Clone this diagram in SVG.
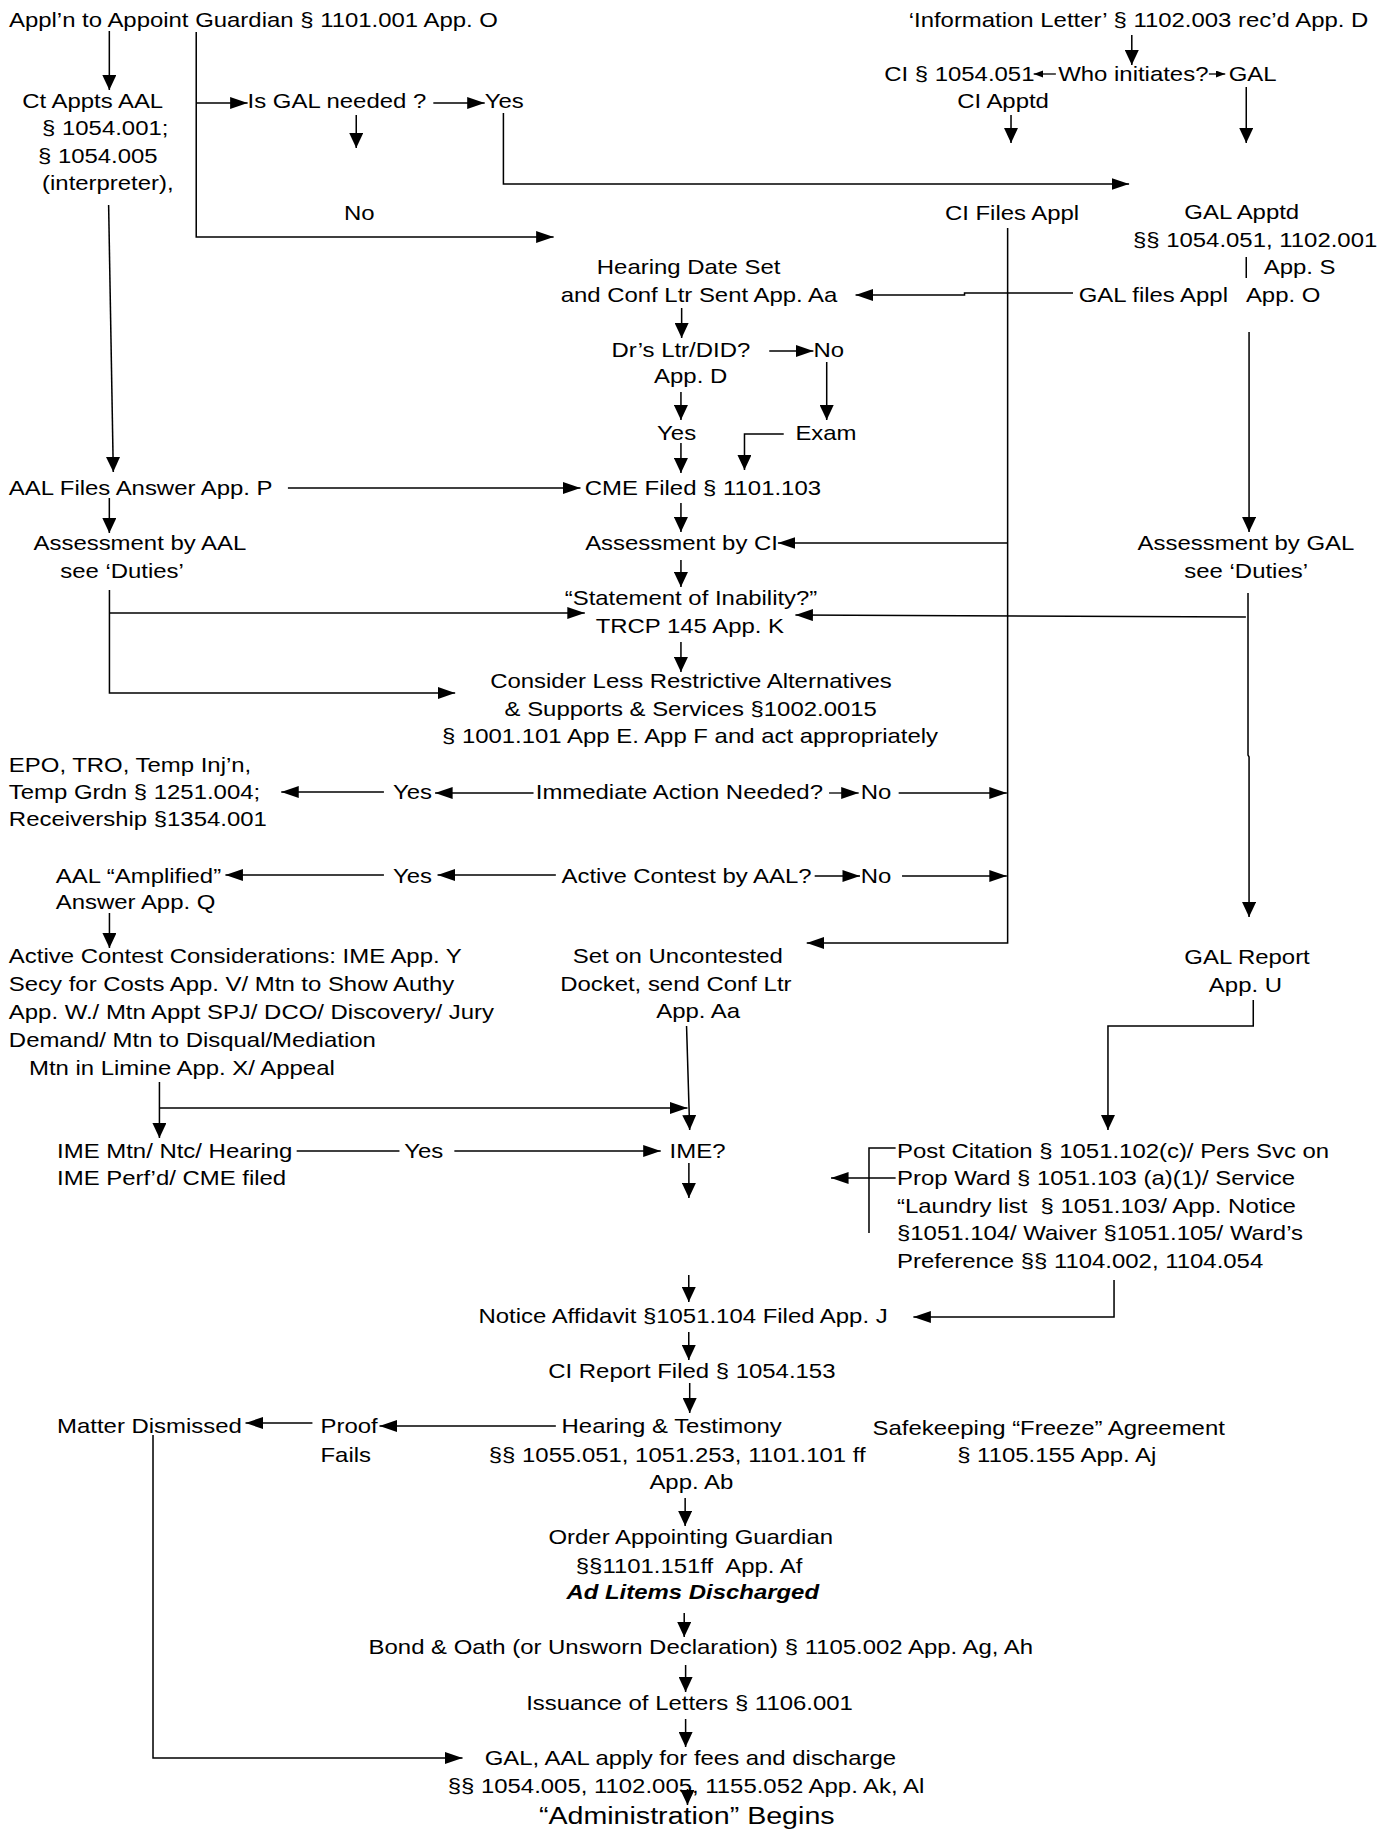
<svg xmlns="http://www.w3.org/2000/svg" width="1397" height="1831" viewBox="0 0 1397 1831">
<style>
text { font-family: "Liberation Sans", Arial, sans-serif; font-size: 20.5px; fill: #000; }
.big { font-size: 24.5px; }
.bi { font-weight: bold; font-style: italic; }
#connectors line, #connectors polyline { fill: none; stroke: #000; stroke-width: 1.3; }
</style>
<defs>
<marker id="a" markerWidth="16" markerHeight="12" refX="15" refY="6" orient="auto" markerUnits="userSpaceOnUse"><path d="M0,0 L15,6 L0,12 z" fill="#000" stroke="none"/></marker>
<marker id="s" markerWidth="9" markerHeight="8" refX="8" refY="3.5" orient="auto" markerUnits="userSpaceOnUse"><path d="M0,0 L8,3.5 L0,7 z" fill="#000" stroke="none"/></marker>
</defs>
<rect width="1397" height="1831" fill="#fff"/>
<g transform="scale(1.168,1)">
<g id="connectors">
<line x1="93.6" y1="31" x2="93.6" y2="90" marker-end="url(#a)"/>
<polyline points="168,32 168,237 474,237" marker-end="url(#a)"/>
<line x1="168" y1="103" x2="212" y2="103" marker-end="url(#a)"/>
<line x1="371" y1="103" x2="415" y2="103" marker-end="url(#a)"/>
<line x1="305" y1="115" x2="305" y2="148" marker-end="url(#a)"/>
<polyline points="431,113 431,184 966.7,184" marker-end="url(#a)"/>
<line x1="969" y1="35" x2="969" y2="65" marker-end="url(#a)"/>
<line x1="904" y1="74" x2="885" y2="74" marker-end="url(#s)"/>
<line x1="1035" y1="74" x2="1049" y2="74" marker-end="url(#s)"/>
<line x1="865.6" y1="115" x2="865.6" y2="143" marker-end="url(#a)"/>
<line x1="1067" y1="87" x2="1067" y2="143" marker-end="url(#a)"/>
<line x1="1067" y1="257" x2="1067" y2="278"/>
<polyline points="918.7,293 825.8,293 825.8,295 732.5,295" marker-end="url(#a)"/>
<polyline points="862.7,228 862.7,943 690.7,943" marker-end="url(#a)"/>
<line x1="583.6" y1="308" x2="583.6" y2="338" marker-end="url(#a)"/>
<line x1="658.6" y1="351" x2="696.4" y2="351" marker-end="url(#a)"/>
<line x1="707.8" y1="362" x2="707.8" y2="420" marker-end="url(#a)"/>
<polyline points="671,434 637.4,434 637.4,470" marker-end="url(#a)"/>
<line x1="583" y1="392" x2="583" y2="420" marker-end="url(#a)"/>
<line x1="583" y1="443" x2="583" y2="473" marker-end="url(#a)"/>
<line x1="246.5" y1="488" x2="497" y2="488" marker-end="url(#a)"/>
<line x1="93" y1="205" x2="97" y2="472" marker-end="url(#a)"/>
<line x1="93.6" y1="498" x2="93.6" y2="533" marker-end="url(#a)"/>
<line x1="583" y1="503" x2="583" y2="532" marker-end="url(#a)"/>
<line x1="862.7" y1="543" x2="666" y2="543" marker-end="url(#a)"/>
<line x1="1069.4" y1="332" x2="1069.4" y2="532" marker-end="url(#a)"/>
<line x1="583" y1="560" x2="583" y2="587" marker-end="url(#a)"/>
<polyline points="1068.5,593 1068.5,755 1069.4,757 1069.4,917" marker-end="url(#a)"/>
<line x1="1066.7" y1="617" x2="681" y2="615" marker-end="url(#a)"/>
<polyline points="93.7,590 93.7,693 389.7,693" marker-end="url(#a)"/>
<line x1="93.7" y1="613" x2="500.7" y2="613" marker-end="url(#a)"/>
<line x1="583" y1="642" x2="583" y2="672" marker-end="url(#a)"/>
<line x1="328.7" y1="792" x2="240.8" y2="792" marker-end="url(#a)"/>
<line x1="456.8" y1="793" x2="372.5" y2="793" marker-end="url(#a)"/>
<line x1="709.8" y1="793" x2="735.2" y2="793" marker-end="url(#a)"/>
<line x1="769.4" y1="793" x2="862" y2="793" marker-end="url(#a)"/>
<line x1="328.7" y1="875" x2="193" y2="875" marker-end="url(#a)"/>
<line x1="475.9" y1="875" x2="374.6" y2="875" marker-end="url(#a)"/>
<line x1="697.5" y1="876" x2="736.3" y2="876" marker-end="url(#a)"/>
<line x1="772.3" y1="876" x2="862" y2="876" marker-end="url(#a)"/>
<line x1="93.7" y1="913" x2="93.7" y2="948" marker-end="url(#a)"/>
<line x1="136.5" y1="1082" x2="136.5" y2="1138" marker-end="url(#a)"/>
<line x1="136.5" y1="1108" x2="588.6" y2="1108" marker-end="url(#a)"/>
<line x1="587.8" y1="1026" x2="590.5" y2="1130" marker-end="url(#a)"/>
<line x1="254" y1="1151" x2="342" y2="1151"/>
<line x1="389" y1="1151" x2="565.7" y2="1151" marker-end="url(#a)"/>
<line x1="589.8" y1="1163" x2="589.8" y2="1198" marker-end="url(#a)"/>
<polyline points="1073,1000 1073,1026 948.6,1026 948.6,1130" marker-end="url(#a)"/>
<polyline points="766.8,1148 744,1148 744,1233"/>
<line x1="766.8" y1="1178" x2="711.5" y2="1178" marker-end="url(#a)"/>
<polyline points="953.8,1280 953.8,1317 782,1317" marker-end="url(#a)"/>
<line x1="589.7" y1="1275" x2="589.7" y2="1302" marker-end="url(#a)"/>
<line x1="589.7" y1="1332" x2="589.7" y2="1360" marker-end="url(#a)"/>
<line x1="590.5" y1="1383" x2="590.5" y2="1413" marker-end="url(#a)"/>
<line x1="267.5" y1="1423" x2="210.2" y2="1423" marker-end="url(#a)"/>
<line x1="475.9" y1="1426" x2="324.9" y2="1426" marker-end="url(#a)"/>
<polyline points="131,1435 131,1758 396,1758" marker-end="url(#a)"/>
<line x1="586.6" y1="1498" x2="586.6" y2="1526" marker-end="url(#a)"/>
<line x1="585.8" y1="1613" x2="585.8" y2="1637" marker-end="url(#a)"/>
<line x1="587" y1="1665" x2="587" y2="1692" marker-end="url(#a)"/>
<line x1="587" y1="1719" x2="587" y2="1747" marker-end="url(#a)"/>
<line x1="588.6" y1="1789" x2="588.6" y2="1805" marker-end="url(#a)"/>
</g>
<g id="n-appl"><text x="7.7" y="27">Appl’n to Appoint Guardian § 1101.001 App. O</text></g>
<g id="n-ctappts"><text x="19" y="108">Ct Appts AAL</text><text x="36" y="135.5">§ 1054.001;</text><text x="32.5" y="163">§ 1054.005</text><text x="36" y="190">(interpreter),</text></g>
<g id="n-isgal"><text x="212" y="108">Is GAL needed ?</text></g>
<g id="n-isgal-yes"><text x="415" y="108">Yes</text></g>
<g id="n-isgal-no"><text x="294.5" y="220">No</text></g>
<g id="n-infoletter"><text x="778" y="27">‘Information Letter’ § 1102.003 rec’d App. D</text></g>
<g id="n-ci"><text x="757" y="81">CI § 1054.051</text><text x="819.5" y="108">CI Apptd</text></g>
<g id="n-who"><text x="906" y="81">Who initiates?</text></g>
<g id="n-gal"><text x="1052" y="81">GAL</text></g>
<g id="n-cifiles"><text x="809" y="220">CI Files Appl</text></g>
<g id="n-galapptd"><text x="1014" y="219">GAL Apptd</text><text x="970" y="247">§§ 1054.051, 1102.001</text><text x="1082" y="274">App. S</text></g>
<g id="n-galfiles"><text x="923.5" y="302">GAL files Appl</text><text x="1066.7" y="302">App. O</text></g>
<g id="n-hearingdate"><text x="511" y="274">Hearing Date Set</text><text x="480" y="302">and Conf Ltr Sent App. Aa</text></g>
<g id="n-drs"><text x="523.6" y="357">Dr’s Ltr/DID?</text><text x="560" y="383">App. D</text></g>
<g id="n-drs-no"><text x="696.4" y="357">No</text></g>
<g id="n-drs-yes"><text x="562.6" y="440">Yes</text></g>
<g id="n-exam"><text x="681" y="440">Exam</text></g>
<g id="n-aalfiles"><text x="7.6" y="495">AAL Files Answer App. P</text></g>
<g id="n-cme"><text x="500.7" y="495">CME Filed § 1101.103</text></g>
<g id="n-assess-aal"><text x="28.7" y="550">Assessment by AAL</text><text x="51.6" y="578">see ‘Duties’</text></g>
<g id="n-assess-ci"><text x="501" y="550">Assessment by CI</text></g>
<g id="n-assess-gal"><text x="974" y="550">Assessment by GAL</text><text x="1014" y="578">see ‘Duties’</text></g>
<g id="n-statement"><text x="483.5" y="605">“Statement of Inability?”</text><text x="510" y="633">TRCP 145 App. K</text></g>
<g id="n-consider"><text x="419.7" y="688">Consider Less Restrictive Alternatives</text><text x="432" y="716">&amp; Supports &amp; Services §1002.0015</text><text x="378.4" y="743">§ 1001.101 App E. App F and act appropriately</text></g>
<g id="n-epo"><text x="7.6" y="772">EPO, TRO, Temp Inj’n,</text><text x="7.6" y="799">Temp Grdn § 1251.004;</text><text x="7.6" y="826">Receivership §1354.001</text></g>
<g id="n-imm-yes"><text x="336.4" y="799">Yes</text></g>
<g id="n-immediate"><text x="458.7" y="799">Immediate Action Needed?</text></g>
<g id="n-imm-no"><text x="737" y="799">No</text></g>
<g id="n-amplified"><text x="47.8" y="883">AAL “Amplified”</text><text x="47.8" y="909">Answer App. Q</text></g>
<g id="n-act-yes"><text x="336.4" y="883">Yes</text></g>
<g id="n-active"><text x="480.8" y="883">Active Contest by AAL?</text></g>
<g id="n-act-no"><text x="737" y="883">No</text></g>
<g id="n-considerations"><text x="7.6" y="963">Active Contest Considerations: IME App. Y</text><text x="7.6" y="991">Secy for Costs App. V/ Mtn to Show Authy</text><text x="7.6" y="1019">App. W./ Mtn Appt SPJ/ DCO/ Discovery/ Jury</text><text x="7.6" y="1047">Demand/ Mtn to Disqual/Mediation</text><text x="24.8" y="1075">Mtn in Limine App. X/ Appeal</text></g>
<g id="n-uncontested"><text x="490.4" y="963">Set on Uncontested</text><text x="479.6" y="991">Docket, send Conf Ltr</text><text x="561.8" y="1018">App. Aa</text></g>
<g id="n-galreport"><text x="1014" y="964">GAL Report</text><text x="1035" y="992">App. U</text></g>
<g id="n-imemtn"><text x="48.9" y="1158">IME Mtn/ Ntc/ Hearing</text><text x="48.9" y="1185">IME Perf’d/ CME filed</text></g>
<g id="n-ime-yes"><text x="346" y="1158">Yes</text></g>
<g id="n-ime"><text x="573.3" y="1158">IME?</text></g>
<g id="n-postcitation"><text x="768" y="1158">Post Citation § 1051.102(c)/ Pers Svc on</text><text x="768" y="1185">Prop Ward § 1051.103 (a)(1)/ Service</text><text x="768" y="1213">“Laundry list&#160; § 1051.103/ App. Notice</text><text x="768" y="1240">§1051.104/ Waiver §1051.105/ Ward’s</text><text x="768" y="1268">Preference §§ 1104.002, 1104.054</text></g>
<g id="n-notice"><text x="409.7" y="1323">Notice Affidavit §1051.104 Filed App. J</text></g>
<g id="n-cireport"><text x="469.4" y="1378">CI Report Filed § 1054.153</text></g>
<g id="n-dismissed"><text x="48.9" y="1433">Matter Dismissed</text></g>
<g id="n-proof"><text x="274.4" y="1433">Proof</text><text x="274.4" y="1462">Fails</text></g>
<g id="n-hearing"><text x="480.8" y="1433">Hearing &amp; Testimony</text><text x="418.5" y="1462">§§ 1055.051, 1051.253, 1101.101 ff</text><text x="556" y="1489">App. Ab</text></g>
<g id="n-safekeeping"><text x="747" y="1435">Safekeeping “Freeze” Agreement</text><text x="819.5" y="1462">§ 1105.155 App. Aj</text></g>
<g id="n-order"><text x="469.6" y="1544">Order Appointing Guardian</text><text x="493" y="1573">§§1101.151ff&#160; App. Af</text><text class="bi" x="485" y="1599">Ad Litems Discharged</text></g>
<g id="n-bond"><text x="315.6" y="1654.5">Bond &amp; Oath (or Unsworn Declaration) § 1105.002 App. Ag, Ah</text></g>
<g id="n-letters"><text x="450.5" y="1710">Issuance of Letters § 1106.001</text></g>
<g id="n-fees"><text x="415" y="1765">GAL, AAL apply for fees and discharge</text><text x="383.3" y="1793.5">§§ 1054.005, 1102.005, 1155.052 App. Ak, Al</text></g>
<g id="n-admin"><text class="big" x="461.4" y="1824">“Administration” Begins</text></g>
</g>
</svg>
